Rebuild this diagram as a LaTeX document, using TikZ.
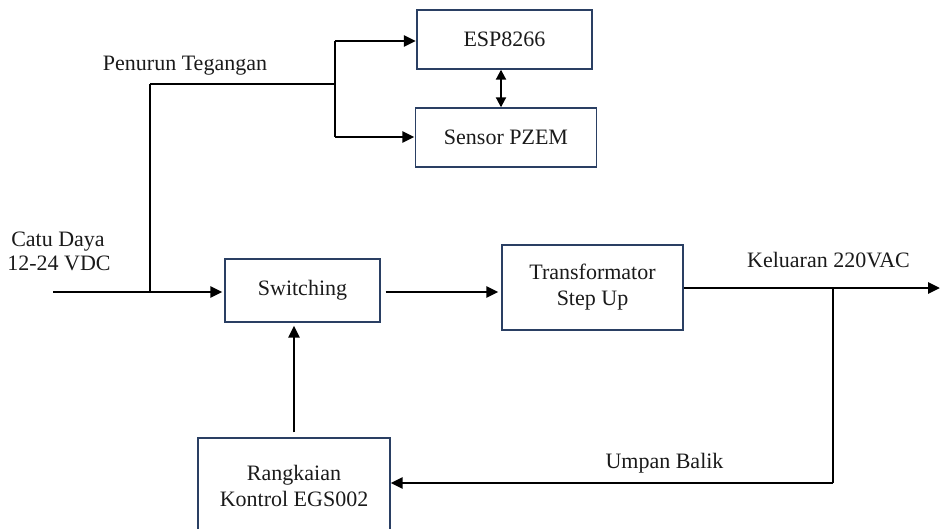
\documentclass[tikz,border=0pt]{standalone}
\usepackage{fontspec}
\setmainfont{Liberation Serif}
\usetikzlibrary{arrows.meta}
\definecolor{boxc}{HTML}{2A3F63}
\definecolor{txt}{HTML}{1A1A1A}
\begin{document}
\begin{tikzpicture}[x=1pt,y=-1pt,
  blk/.style={draw=boxc, line width=1.4pt, inner sep=0pt, align=center,
    text=txt, font=\fontsize{22}{26}\selectfont},
  lbl/.style={inner sep=0pt, anchor=base, align=center, text=txt,
    font=\fontsize{22}{24}\selectfont},
  thick arrow/.style={line width=2.8pt, -{Triangle[length=12pt,width=11pt]}},
  dbl arrow/.style={line width=2pt, {Triangle[length=10pt,width=10pt]}-{Triangle[length=10pt,width=10pt]}},
  thin line/.style={line width=1.2pt},
  mid line/.style={line width=2pt}]
\useasboundingbox (0,0) rectangle (940,528);
\clip (0,0) rectangle (940,528);

% blocks
\node[blk, minimum width=175pt, minimum height=59pt] (esp) at (504.5,39.5) {ESP8266};
\node[blk, minimum width=181pt, minimum height=59pt] (pzem) at (506,137.5) {Sensor PZEM};
\node[blk, minimum width=155pt, minimum height=63pt] (sw) at (302.5,290.5) {Switching};
\node[blk, minimum width=181pt, minimum height=85pt] (tr) at (592.5,287.5) {Transformator\\Step Up};
\node[blk, minimum width=192pt, minimum height=96pt] (rk) at (294,486) {Rangkaian\\Kontrol EGS002};

% labels
\node[lbl] (lpt) at (185,70) {Penurun Tegangan};
\node[lbl] (lcd1) at (58,246) {Catu Daya};
\node[lbl] (lcd2) at (59,270) {12-24 VDC};
\node[lbl] (lout) at (828.5,267) {Keluaran 220VAC};
\node[lbl] (lfb) at (664.5,468) {Umpan Balik};

% coordinates
\coordinate (in) at (53,292);
\coordinate (jin) at (150,292);
\coordinate (jtop) at (150,84);
\coordinate (jsplit) at (335,84);
\coordinate (jesp) at (335,41);
\coordinate (jpzem) at (335,137);
\coordinate (jout) at (833,288);
\coordinate (jfb) at (833,483);
\coordinate (out) at (940,288);
\coordinate (up) at (294,0);

% connectors
\draw[thick arrow, shorten >=2pt] (in) -- (sw.west |- in);
\draw[mid line] (jin) -- (jtop);
\draw[thin line] (jtop) -- (jsplit);
\draw[mid line] (jesp) -- (jpzem);
\draw[thick arrow, shorten >=0.5pt] (jesp) -- (esp.west |- jesp);
\draw[thick arrow, shorten >=0.5pt] (jpzem) -- (pzem.west |- jpzem);
\draw[dbl arrow] (esp.south -| 501,0) -- (pzem.north -| 501,0);
\draw[thick arrow, shorten <=5pt, shorten >=3pt] (sw.east |- 0,292) -- (tr.west |- 0,292);
\draw[thick arrow, shorten <=5pt, shorten >=3pt] (rk.north -| up) -- (sw.south -| up);
\draw[thick arrow] (tr.east |- jout) -- (out);
\draw[mid line] (jout) -- (jfb);
\draw[thick arrow] (jfb) -- (rk.east |- jfb);
\end{tikzpicture}
\end{document}
